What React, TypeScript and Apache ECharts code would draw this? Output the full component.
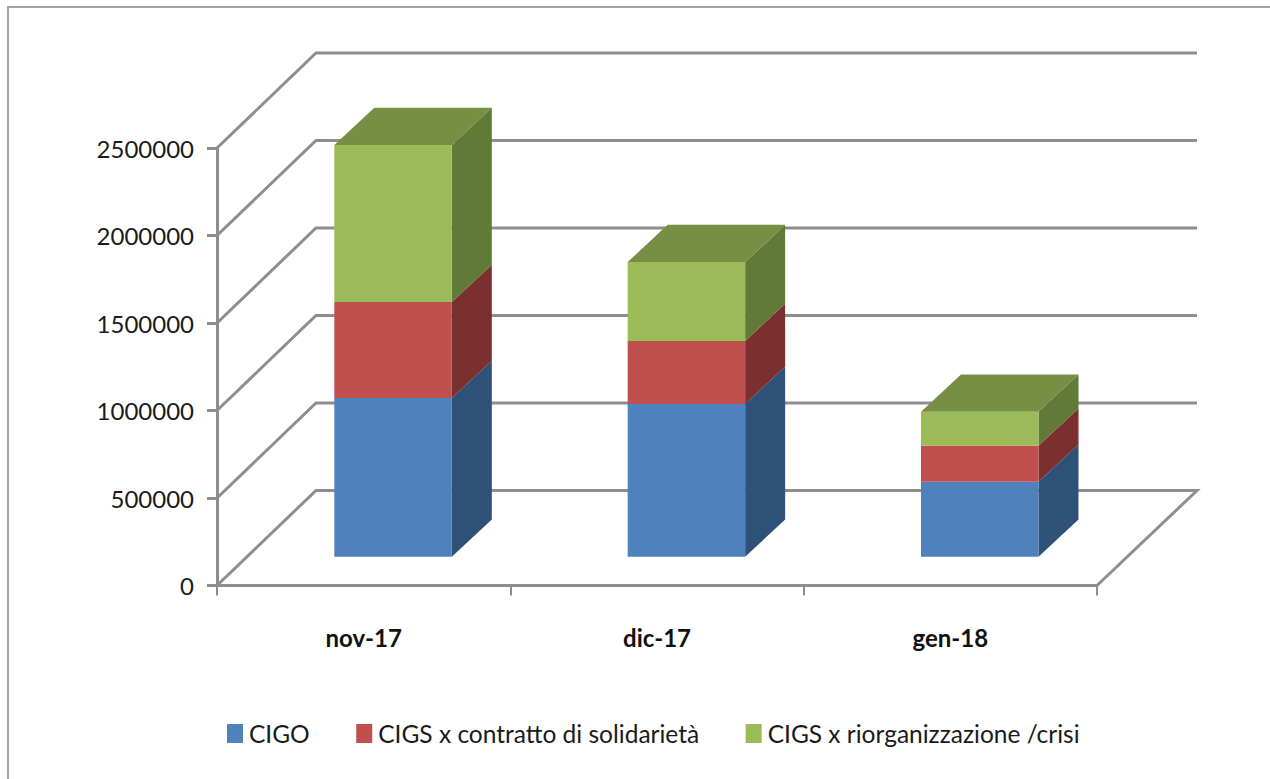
import React, { useEffect, useRef } from "react";
import * as echarts from "echarts";

const categories = ["nov-17", "dic-17", "gen-18"];
const cigo = [907000, 873000, 428500];
const solidarieta = [549000, 360000, 206000];
const riorganizzazione = [897000, 451000, 194000];
const yTicks = [0, 500000, 1000000, 1500000, 2000000, 2500000];
const seriesNames = ["CIGO", "CIGS x contratto di solidarietà", "CIGS x riorganizzazione /crisi"];

const FRONT = ["#4F81BD", "#C0504D", "#9BBB59"];
const SIDE = ["#2F5178", "#7A302E", "#627A37"];
const TOP = ["#3F6797", "#9A403D", "#768F44"];
const GRID_COLOR = "#8E8E8E";
const FONT = "Lato, 'Open Sans', sans-serif";

const DEPTH_X = 99;
const DEPTH_Y = 95;
const BAR_W = 117.5;
const BAR_SHIFT_X = 29.4;
const BAR_SHIFT_Y = 28.7;
const BAR_DX = 40;
const BAR_DY = 37.3;

function stackSeries(index: number, stacks: number[][]) {
  const rows = categories.map((_, c) => {
    let base = 0;
    for (let s = 0; s < index; s++) base += stacks[s][c];
    return [c, base, base + stacks[index][c]];
  });
  const isTop = index === stacks.length - 1;
  return {
    type: "custom",
    name: seriesNames[index],
    itemStyle: { color: FRONT[index] },
    silent: true,
    z: 3 + index,
    data: rows,
    encode: { x: 0, y: 2 },
    renderItem: (_p: any, api: any) => {
      const c = api.value(0);
      const b = api.coord([c, api.value(1)]);
      const t = api.coord([c, api.value(2)]);
      const x0 = b[0] + BAR_SHIFT_X - BAR_W / 2;
      const x1 = x0 + BAR_W;
      const yb = b[1] - BAR_SHIFT_Y;
      const yt = t[1] - BAR_SHIFT_Y;
      const children: any[] = [
        {
          type: "polygon",
          shape: { points: [[x1, yb], [x1 + BAR_DX, yb - BAR_DY], [x1 + BAR_DX, yt - BAR_DY], [x1, yt]] },
          style: { fill: SIDE[index] },
        },
        { type: "rect", shape: { x: x0, y: yt, width: BAR_W, height: yb - yt }, style: { fill: FRONT[index] } },
      ];
      if (isTop) {
        children.push({
          type: "polygon",
          shape: { points: [[x0, yt], [x1, yt], [x1 + BAR_DX, yt - BAR_DY], [x0 + BAR_DX, yt - BAR_DY]] },
          style: { fill: TOP[index] },
        });
      }
      return { type: "group", children };
    },
  };
}

export default function App() {
  const ref = useRef<HTMLDivElement>(null);
  useEffect(() => {
    const chart = echarts.init(ref.current!, null, { renderer: "svg" });
    const stacks = [cigo, solidarieta, riorganizzazione];
    chart.setOption({
      animation: false,
      backgroundColor: "#ffffff",
      textStyle: { fontFamily: FONT },
      grid: { left: 217, top: 148, width: 880, height: 437.5, containLabel: false },
      graphic: [
        {
          type: "polyline",
          shape: { points: [[8, 779], [8, 7], [1270, 7]] },
          style: { stroke: "#A3A3A3", lineWidth: 2, fill: "none" },
          silent: true,
        },
      ],
      legend: {
        left: 227,
        top: 721,
        icon: "rect",
        itemWidth: 16,
        itemHeight: 19,
        itemGap: 46.5,
        padding: 0,
        selectedMode: false,
        data: seriesNames,
        textStyle: { fontFamily: FONT, fontSize: 24.5, color: "#1a1a1a", padding: [0, 0, 8, 1] },
      },
      xAxis: {
        type: "category",
        data: categories,
        boundaryGap: true,
        axisLine: { lineStyle: { color: GRID_COLOR, width: 3 } },
        axisTick: { show: true, length: 10, lineStyle: { color: GRID_COLOR, width: 2 } },
        axisLabel: { fontFamily: FONT, fontWeight: "bold", fontSize: 24, color: "#111111", margin: 40 },
      },
      yAxis: {
        type: "value",
        min: 0,
        max: 2500000,
        interval: 500000,
        splitLine: { show: false },
        axisLine: { show: true, lineStyle: { color: GRID_COLOR, width: 3 } },
        axisTick: { show: true, length: 10, lineStyle: { color: GRID_COLOR, width: 3 } },
        axisLabel: {
          fontFamily: FONT,
          fontSize: 24,
          color: "#1a1a1a",
          margin: 23,
          formatter: (v: number) => String(v),
        },
      },
      series: [
        {
          type: "custom",
          silent: true,
          z: 1,
          data: yTicks.map((v) => [v]),
          encode: { y: 0 },
          renderItem: (p: any, api: any) => {
            const y = api.coord([0, api.value(0)])[1];
            const left = p.coordSys.x;
            const right = left + p.coordSys.width;
            const points = [[left, y], [left + DEPTH_X, y - DEPTH_Y], [right + DEPTH_X + 1, y - DEPTH_Y]];
            if (api.value(0) === 0) points.push([right, y]);
            return {
              type: "polyline",
              shape: { points },
              style: { stroke: GRID_COLOR, lineWidth: 3, fill: "none" },
            };
          },
        },
        ...stacks.map((_, i) => stackSeries(i, stacks)),
      ],
    });
    return () => chart.dispose();
  }, []);
  return (
    <div
      ref={ref}
      style={{ position: "absolute", left: 0, top: 0, width: 1270, height: 779, overflow: "hidden" }}
    />
  );
}
